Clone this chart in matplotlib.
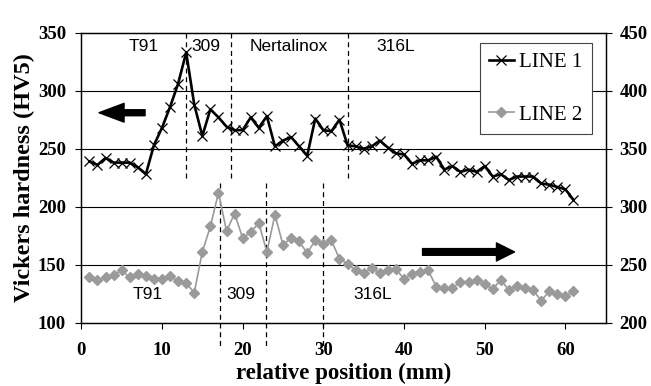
import matplotlib.pyplot as plt
import numpy as np
from matplotlib.patches import FancyArrowPatch

# position along the weld (mm)
pos = np.arange(1, 62)

# LINE 1 -> left axis (HV5)
line1 = [239, 236, 242, 238, 238, 238, 234, 228, 253, 268,
         286, 306, 333, 288, 261, 284, 277, 269, 266, 266,
         277, 268, 278, 252, 257, 260, 252, 244, 276, 266,
         265, 275, 253, 252, 250, 252, 257, 251, 246, 245,
         237, 240, 240, 243, 232, 235, 230, 232, 230, 235,
         226, 228, 223, 226, 226, 226, 220, 219, 217, 215, 206]

# LINE 2 -> right axis
line2 = [239, 237, 239, 241, 245, 239, 242, 240, 238, 238,
         240, 236, 234, 226, 261, 283, 312, 279, 294, 273,
         278, 286, 261, 293, 267, 273, 270, 260, 271, 268,
         271, 255, 251, 245, 243, 247, 243, 245, 246, 238,
         242, 244, 245, 231, 230, 230, 235, 235, 237, 233,
         229, 237, 228, 232, 230, 228, 219, 227, 225, 223, 227]

top_zones = ['T91', '309', 'Nertalinox', '316L']
top_zone_x = [7.7, 15.5, 25.7, 39.0]
top_bounds = [13, 18.6, 33]

bot_zones = ['T91', '309', '316L']
bot_zone_x = [8.2, 19.8, 36.1]
bot_bounds = [17.15, 22.9, 30]

serif = 'Liberation Serif'
sans = 'Liberation Sans'

fig = plt.figure(figsize=(6.51, 3.86), dpi=100)
ax = fig.add_axes([0.1249, 0.164, 0.8055, 0.7513])
ax2 = ax.twinx()

ax.set_xlim(0, 65)
ax.set_ylim(100, 350)
ax2.set_ylim(200, 450)
ax.set_xticks(np.arange(0, 61, 10))
ax.set_yticks(np.arange(100, 351, 50))
ax2.set_yticks(np.arange(200, 451, 50))

for a in (ax, ax2):
    a.tick_params(direction='out', length=4, width=0.8, labelsize=13.5)
    for lab in a.get_xticklabels() + a.get_yticklabels():
        lab.set_fontfamily(serif)
        lab.set_fontweight('bold')
    for s in a.spines.values():
        s.set_linewidth(0.9)
ax.tick_params(axis='x', pad=10)
ax.tick_params(axis='y', pad=7)
ax2.tick_params(axis='y', pad=6)

for g in [150, 200, 250, 300]:
    ax.axhline(g, color='black', lw=0.8, zorder=1)

for xb in top_bounds:
    ax.plot([xb, xb], [350, 225], ls=(0, (4, 3)), color='black', lw=0.9, zorder=2)
for xb in bot_bounds:
    ax.plot([xb, xb], [220, 77], ls=(0, (4, 3)), color='black', lw=0.9,
            zorder=2, clip_on=False)

l1, = ax.plot(pos, line1, color='black', lw=1.9, marker='x', ms=6.5, mew=0.9,
              label='LINE 1', zorder=4)
l2, = ax2.plot(pos, line2, color='#9a9a9a', lw=1.2, marker='D', ms=5.5,
               mec='#9a9a9a', label='LINE 2', zorder=4)

for t, xx in zip(top_zones, top_zone_x):
    ax.text(xx, 338, t, ha='center', va='center', fontsize=12.5, family=sans)
for t, xx in zip(bot_zones, bot_zone_x):
    ax.text(xx, 124, t, ha='center', va='center', fontsize=12.5, family=sans)

arr1 = FancyArrowPatch((7.9, 281), (2.2, 281),
                       arrowstyle='simple,head_length=18,head_width=13.5,tail_width=4.3',
                       color='black', shrinkA=0, shrinkB=0, mutation_scale=1, zorder=5)
ax.add_patch(arr1)
arr2 = FancyArrowPatch((42.3, 161), (53.7, 161),
                       arrowstyle='simple,head_length=13,head_width=13,tail_width=4.8',
                       color='black', shrinkA=0, shrinkB=0, mutation_scale=1, zorder=5)
ax.add_patch(arr2)

ax.set_xlabel('relative position (mm)', fontsize=16.5, fontweight='bold',
              family=serif, labelpad=3)
ax.set_ylabel('Vickers hardness (HV5)', fontsize=17.5, fontweight='bold',
              family=serif, labelpad=2)

leg = ax2.legend([l1, l2], ['LINE 1', 'LINE 2'], loc='upper right',
                 bbox_to_anchor=(0.909, 0.889), bbox_transform=fig.transFigure,
                 borderaxespad=0, fancybox=False, framealpha=1, edgecolor='#444444',
                 prop={'family': serif, 'size': 15}, handlelength=1.2,
                 handletextpad=0.25, labelspacing=1.6, borderpad=0.45)
leg.get_frame().set_linewidth(0.8)
leg.set_zorder(10)

fig.savefig('out.png', dpi=100)
